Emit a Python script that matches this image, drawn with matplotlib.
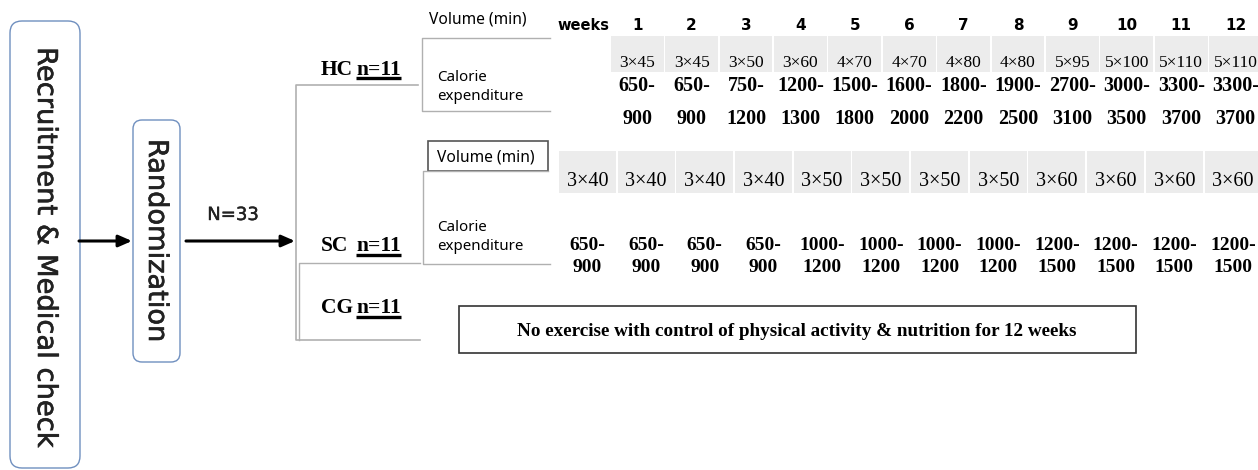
import matplotlib
matplotlib.use('Agg')
import matplotlib.pyplot as plt
import matplotlib.patheffects as pe
from matplotlib.patches import FancyBboxPatch, Rectangle

### DATA ###
weeks = [str(w) for w in range(1, 13)]
hc_volume = ['3×45', '3×45', '3×50', '3×60', '4×70', '4×70',
             '4×80', '4×80', '5×95', '5×100', '5×110', '5×110']
hc_kcal = ['650-900', '650-900', '750-1200', '1200-1300', '1500-1800', '1600-2000',
           '1800-2200', '1900-2500', '2700-3100', '3000-3500', '3300-3700', '3300-3700']
sc_volume = ['3×40', '3×40', '3×40', '3×40', '3×50', '3×50',
             '3×50', '3×50', '3×60', '3×60', '3×60', '3×60']
sc_kcal = ['650-900', '650-900', '650-900', '650-900', '1000-1200', '1000-1200',
           '1000-1200', '1000-1200', '1200-1500', '1200-1500', '1200-1500', '1200-1500']
groups = ['HC', 'SC', 'CG']
group_n = [11, 11, 11]
total_n = 33
cg_note = 'No exercise with control of physical activity & nutrition for 12 weeks'

### STYLE ###
SANS = 'Noto Sans'
SERIF = 'Liberation Serif'
HEAVY = 'DejaVu Sans'
BOXBLUE = '#6f8fbf'
GRAYLINE = '#b0b0b0'
CELL = '#ececec'
thick = [pe.withStroke(linewidth=0.45, foreground='#222')]

fig = plt.figure(figsize=(12.58, 4.70), dpi=100)
ax = fig.add_axes([0, 0, 1, 1])
ax.set_xlim(0, 1258)
ax.set_ylim(470, 0)
ax.axis('off')

# --- left flow: recruitment -> randomization -> groups ---
ax.add_patch(FancyBboxPatch((10, 21), 70, 447, boxstyle='round,pad=0,rounding_size=12',
                            fc='white', ec=BOXBLUE, lw=1.0))
ax.text(45, 248, 'Recruitment & Medical check', rotation=-90, ha='center', va='center',
        fontsize=19.7, family=HEAVY, color='#222', path_effects=thick)
ax.add_patch(FancyBboxPatch((133, 120), 47, 242, boxstyle='round,pad=0,rounding_size=9',
                            fc='white', ec=BOXBLUE, lw=1.0))
ax.text(156, 241, 'Randomization', rotation=-90, ha='center', va='center',
        fontsize=19.6, family=HEAVY, color='#222', path_effects=thick)

arrow = dict(arrowstyle='-|>,head_length=0.8,head_width=0.35', color='black', lw=2.2,
             shrinkA=0, shrinkB=0)
ax.annotate('', xy=(132, 241), xytext=(79, 241), arrowprops=arrow)
ax.annotate('', xy=(295, 241), xytext=(186, 241), arrowprops=arrow)
ax.text(233, 215, f'N={total_n}', ha='center', va='center', fontsize=13, family=HEAVY,
        color='#222', path_effects=[pe.withStroke(linewidth=0.3, foreground='#222')])

# bracket lines to groups
ax.plot([418, 296, 296, 420], [85, 85, 340, 340], color=GRAYLINE, lw=1.2)
ax.plot([420, 299, 299], [263, 263, 340], color=GRAYLINE, lw=1.0)

# group labels with underlined n
label_base = [75, 251, 313]
underline_y = [78, 255, 317]
fig.canvas.draw()
r = fig.canvas.get_renderer()
for g, n, yb, yu in zip(groups, group_n, label_base, underline_y):
    ax.text(321, yb, g, ha='left', va='baseline', fontsize=15.5, family=SERIF,
            weight='bold')
    t = ax.text(356, yb, f'n={n}', ha='left', va='baseline', fontsize=15.5, family=SERIF,
                weight='bold')
    bb = t.get_window_extent(renderer=r).transformed(ax.transData.inverted())
    ax.plot([bb.x0, bb.x1], [yu, yu], color='black', lw=2.4, solid_capstyle='butt')

# --- HC table ---
ax.text(429, 20, 'Volume (min)', ha='left', va='center', fontsize=11.2, family=SANS)
ax.plot([550, 422, 422, 550], [38, 38, 111, 111], color=GRAYLINE, lw=1.0)
ax.text(437, 87, 'Calorie\nexpenditure', ha='left', va='center', fontsize=10.9,
        family=SANS, linespacing=1.3)
ax.text(583, 26, 'weeks', ha='center', va='center', fontsize=10.5, family=HEAVY,
        weight='bold')

hc_x0, hc_w = 610, 54.4
for i, (wk, vol, kc) in enumerate(zip(weeks, hc_volume, hc_kcal)):
    cx = hc_x0 + hc_w * (i + 0.5)
    ax.add_patch(Rectangle((hc_x0 + hc_w * i + 0.8, 36), hc_w - 1.6, 36, fc=CELL, ec='none'))
    ax.text(cx, 26, wk, ha='center', va='center', fontsize=11, family=HEAVY,
            weight='bold')
    ax.text(cx, 63, vol, ha='center', va='center', fontsize=12.5, family=SERIF)
    lo, hi = kc.split('-')
    ax.text(cx, 86, lo + '-', ha='center', va='center', fontsize=14.5, family=SERIF,
            weight='bold')
    ax.text(cx, 119, hi, ha='center', va='center', fontsize=14.5, family=SERIF,
            weight='bold')

# --- SC table ---
ax.add_patch(Rectangle((428, 141), 120, 30, fc='white', ec='#555', lw=1.2))
ax.text(437, 157, 'Volume (min)', ha='left', va='center', fontsize=11.2, family=SANS)
ax.plot([548, 423, 423, 550], [171, 171, 264, 264], color=GRAYLINE, lw=1.0)
ax.text(437, 237, 'Calorie\nexpenditure', ha='left', va='center', fontsize=10.9,
        family=SANS, linespacing=1.3)

sc_x0, sc_w = 558, 58.7
for i, (vol, kc) in enumerate(zip(sc_volume, sc_kcal)):
    cx = sc_x0 + sc_w * (i + 0.5)
    ax.add_patch(Rectangle((sc_x0 + sc_w * i + 0.8, 151), sc_w - 1.6, 42, fc=CELL, ec='none'))
    ax.text(cx, 182, vol, ha='center', va='center', fontsize=14.5, family=SERIF)
    lo, hi = kc.split('-')
    ax.text(cx, 245, lo + '-', ha='center', va='center', fontsize=14, family=SERIF,
            weight='bold')
    ax.text(cx, 267, hi, ha='center', va='center', fontsize=14, family=SERIF,
            weight='bold')

# --- CG box ---
ax.add_patch(Rectangle((459, 306), 677, 47, fc='white', ec='#333', lw=1.2))
ax.text(797, 331, cg_note, ha='center', va='center', fontsize=13.8, family=SERIF,
        weight='bold')

fig.savefig('out.png', dpi=100)
